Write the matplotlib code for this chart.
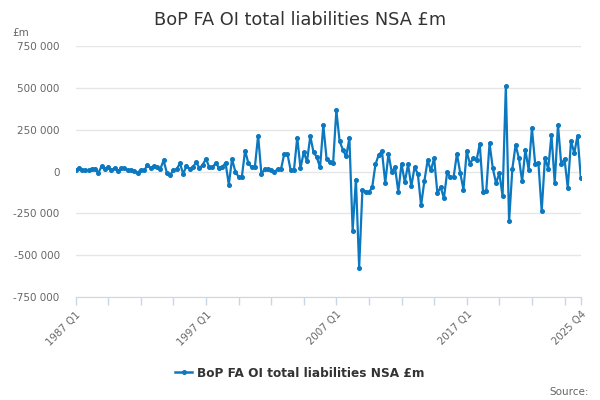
import numpy as np
import matplotlib.pyplot as plt
from matplotlib.lines import Line2D

# quarterly series, 1987 Q1 .. 2025 Q4, £m
years = list(range(1987, 2026))
quarters = [f"{y} Q{q}" for y in years for q in range(1, 5)]

values = [
    6000, 22000, 10000, 6000, 6000, 16000, 16000, -8000, 32000, 16000,
    26000, 6000, 22000, 2000, 20000, 20000, 6000, 6000, 2000, -8000,
    10000, 6000, 36000, 22000, 32000, 26000, 16000, 66000, -8000, -20000,
    6000, 12000, 50000, -14000, 32000, 16000, 26000, 56000, 20000, 40000,
    76000, 26000, 26000, 50000, 22000, 26000, 52000, -78000, 74000, 0,
    -32000, -34000, 125000, 50000, 26000, 26000, 215000, -14000, 12000, 14000,
    6000, 0, 12000, 12000, 104000, 104000, 6000, 10000, 203000, 20000,
    115000, 60000, 211000, 115000, 86000, 24000, 277000, 76000, 56000, 48000,
    365000, 181000, 130000, 90000, 199000, -353000, -48000, -574000, -108000, -120000,
    -124000, -94000, 42000, 100000, 121000, -68000, 106000, -4000, 26000, -120000,
    46000, -64000, 42000, -88000, 26000, -14000, -203000, -58000, 66000, 6000,
    80000, -129000, -94000, -159000, -4000, -34000, -30000, 106000, -8000, -108000,
    120000, 45000, 80000, 66000, 165000, -120000, -114000, 169000, 20000, -70000,
    -10000, -147000, 510000, -297000, 16000, 159000, 80000, -58000, 129000, 10000,
    259000, 46000, 50000, -237000, 82000, 16000, 219000, -68000, 279000, 42000,
    76000, -98000, 181000, 110000, 215000, -38000,
]

label_quarters = ["1987 Q1", "1997 Q1", "2007 Q1", "2017 Q1", "2025 Q4"]
y_ticks = [-750000, -500000, -250000, 0, 250000, 500000, 750000]

series_name = "BoP FA OI total liabilities NSA £m"
blue = "#0b78c0"

fig = plt.figure(figsize=(6, 4), dpi=100)
ax = fig.add_axes([0.126, 0.2575, 0.842, 0.6275])

# spines first: set_position resets the ticks
for s in ["top", "right", "left"]:
    ax.spines[s].set_visible(False)
ax.spines["bottom"].set_color("#ccd6eb")

x = np.arange(len(values))
ax.plot(x, values, color=blue, lw=1.6, marker="o", ms=2.6, zorder=3)

ax.set_xlim(0, len(values) - 1)
ax.set_ylim(-750000, 750000)

ax.tick_params(axis="y", length=0, pad=11.5, labelsize=7.5, labelcolor="#666666")
ax.set_yticks(y_ticks)
ax.set_yticklabels([f"{v:,}".replace(",", " ") for v in y_ticks])
ax.yaxis.grid(True, color="#e6e6e6", lw=1)
ax.set_axisbelow(True)

# ticks every 10 quarters plus the last one, labels only on a few
ax.tick_params(axis="x", length=6, color="#ccd6eb", width=1, pad=3,
               labelsize=7.3, labelcolor="#666666")
tick_pos = list(range(0, len(values), 10)) + [len(values) - 1]
tick_labels = [quarters[p] if quarters[p] in label_quarters else "" for p in tick_pos]
ax.set_xticks(tick_pos)
ax.set_xticklabels(tick_labels)
plt.setp(ax.get_xticklabels(), rotation=45, ha="right", rotation_mode="anchor")

fig.suptitle(series_name, x=0.5, y=0.972, fontsize=12.8, color="#333333")
fig.text(0.02, 0.91, "£m", fontsize=7.5, color="#666666")
fig.text(0.982, 0.013, "Source:", fontsize=7.5, color="#666666", ha="right")

handle = Line2D([], [], color=blue, lw=1.8, marker="o", ms=2.6)
fig.legend([handle], [series_name], loc="center", bbox_to_anchor=(0.5, 0.067),
           frameon=False, handlelength=1.4, handletextpad=0.4,
           prop={"size": 8.7, "weight": "bold"}, labelcolor="#333333")

fig.savefig("out.png", dpi=100)
